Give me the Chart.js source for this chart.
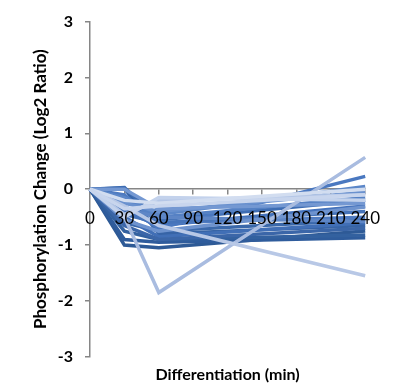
<!DOCTYPE html>
<html>
<head>
<meta charset="utf-8">
<script src="https://cdn.jsdelivr.net/npm/chart.js@4/dist/chart.umd.min.js"></script>
<style>
  html, body { margin: 0; padding: 0; background: #fff; }
  #wrap { width: 394px; height: 386px; }
</style>
</head>
<body>
<div id="wrap"><canvas id="c" width="394" height="386"></canvas></div>
<script>
// Time points (min); only 0, 30, 60 and 240 were measured
const minutes = ['0', '30', '60', '90', '120', '150', '180', '210', '240'];
const yTicks = [-3, -2, -1, 0, 1, 2, 3];

// Log2 phosphorylation ratios per site at 0, 30, 60, 240 min
const site01 = [0, -1.00, -1.05, -0.75];
const site02 = [0, -0.90, -0.95, -0.87];
const site03 = [0, -0.75, -0.90, -0.82];
const site04 = [0,  0.02, -0.80, -0.65];
const site05 = [0, -0.60, -0.75, -0.55];
const site06 = [0,  0.03, -0.55, -0.20];
const site07 = [0, -0.50, -0.85, -0.60];
const site08 = [0, -0.40, -0.65, -0.30];
const site09 = [0, -0.30, -0.70,  0.23];
const site10 = [0, -0.10, -0.60, -0.50];
const site11 = [0, -0.20, -0.50, -0.15];
const site12 = [0, -0.65, -0.90, -0.70];
const site13 = [0, -0.15, -0.45,  0.05];
const site14 = [0, -0.45, -0.60, -0.40];
const site15 = [0, -0.25, -0.40, -0.05];
const site16 = [0,  0.00, -0.35, -0.25];
const site17 = [0, -0.35, -0.50, -0.58];
const site18 = [0, -0.55, -0.75, -0.32];
const site19 = [0, -0.50, -1.85,  0.57];
const site20 = [0, -0.45, -0.20, -0.10];
const site21 = [0, -0.30, -0.65, -1.55];
const site22 = [0, -0.50, -0.15, -0.20];
const site23 = [0, -0.20, -0.25,  0.00];
const site24 = [0, -0.35, -0.30, -0.10];

const series = [
  [site01, '#2E5A96'], [site02, '#2F5C9C'], [site03, '#33619F'], [site04, '#3764A6'],
  [site05, '#3A68AA'], [site06, '#3E6DB3'], [site07, '#416FB6'], [site08, '#4472BB'],
  [site09, '#4A78C0'], [site10, '#4F7BC1'], [site11, '#5581C4'], [site12, '#3B66A8'],
  [site13, '#5C87C8'], [site14, '#4674BA'], [site15, '#6A91CE'], [site16, '#7498D2'],
  [site17, '#5E86C6'], [site18, '#6E93CE'], [site19, '#A9BCE0'], [site20, '#B4C6E6'],
  [site21, '#B8C8E6'], [site22, '#C3D2EC'], [site23, '#D2DDF0'], [site24, '#C8D5ED']
];

// Spread the four measurements onto the 9-step time axis
function toAxis(v) {
  return [v[0], v[1], v[2], null, null, null, null, null, v[3]];
}

// Earlier datasets are drawn on top in Chart.js, so reverse to put light lines above
const datasets = series.map(([vals, col], i) => ({
  label: 'site ' + (i + 1),
  data: toAxis(vals),
  borderColor: col,
  backgroundColor: col,
  borderWidth: 3.5,
  pointRadius: 0,
  tension: 0,
  spanGaps: true,
  fill: false
})).reverse();

const axisGrey = '#868686';

new Chart(document.getElementById('c'), {
  type: 'line',
  data: { labels: minutes, datasets },
  options: {
    responsive: false,
    animation: false,
    devicePixelRatio: 1,
    layout: { padding: { left: 0, right: 22, top: 20, bottom: 0 } },
    plugins: {
      legend: { display: false },
      tooltip: { enabled: false },
      title: {
        display: true,
        position: 'bottom',
        fullSize: false,
        text: 'Differentiation (min)',
        color: '#000',
        font: { family: 'Lato', size: 16, weight: 'bold' },
        padding: { top: 8, bottom: 2 }
      }
    },
    scales: {
      x: {
        type: 'category',
        position: { y: 0 },
        offset: false,
        border: { display: true, color: axisGrey, width: 1.5 },
        grid: { display: true, drawOnChartArea: false, drawTicks: true, tickLength: 5, color: axisGrey, lineWidth: 1.5 },
        ticks: {
          z: 1,
          color: '#000',
          font: { family: 'Lato', size: 17 },
          padding: 14,
          maxRotation: 0,
          autoSkip: false
        }
      },
      y: {
        min: -3,
        max: 3,
        afterBuildTicks: (s) => { s.ticks = yTicks.map(v => ({ value: v })); },
        afterFit: (s) => { s.width = 90; },
        border: { display: true, color: axisGrey, width: 1.5 },
        grid: { display: true, drawOnChartArea: false, drawTicks: true, tickLength: 5, color: axisGrey, lineWidth: 1.5 },
        ticks: {
          color: '#000',
          font: { family: 'Lato', size: 16, weight: 'bold' },
          padding: 12
        },
        title: {
          display: true,
          text: 'Phosphorylation Change (Log2 Ratio)',
          color: '#000',
          font: { family: 'Lato', size: 17, weight: 'bold' },
          padding: { top: 30, bottom: 0 }
        }
      }
    }
  }
});
</script>
</body>
</html>
